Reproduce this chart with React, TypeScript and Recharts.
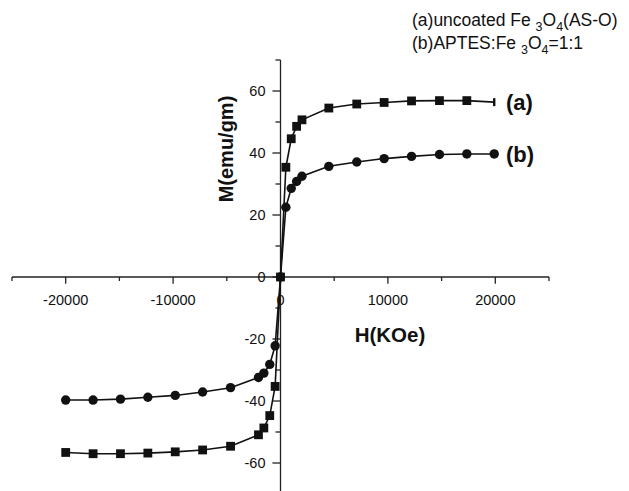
import { Line, LineChart, ReferenceDot, ReferenceLine, XAxis, YAxis } from "recharts";

// applied field H, shared by both samples
const fieldH = [
  -20000, -17450, -14900, -12350, -9800, -7250, -4650, -2050, -1550, -1000, -500, 0,
  500, 1000, 1500, 2000, 4500, 7100, 9650, 12200, 14800, 17350, 19900
];
// (a) uncoated Fe3O4
const uncoatedM = [
  -56.6, -57, -57, -56.8, -56.4, -55.8, -54.6, -50.9, -48.7, -44.7, -35.3, 0,
  35.4, 44.6, 48.6, 50.7, 54.5, 55.8, 56.3, 56.8, 56.9, 56.9, 56.4
];
// (b) APTES:Fe3O4 = 1:1
const aptesM = [
  -39.7, -39.7, -39.4, -38.8, -38.2, -37.1, -35.7, -32.4, -31, -28.2, -22.2, 0,
  22.5, 28.6, 30.8, 32.5, 35.7, 37.1, 38.2, 38.9, 39.5, 39.7, 39.7
];

const xMajorTicks = [-20000, -10000, 0, 10000, 20000];
const xMinorTicks = [-25000, -15000, -5000, 5000, 15000, 25000];
const yMajorTicks = [-60, -40, -20, 0, 20, 40, 60];
const yMinorTicks = [-50, -30, -10, 10, 30, 50, 70];

const rows = fieldH.map((h, i) => ({ h, a: uncoatedM[i], b: aptesM[i] }));

const FONT = "'Liberation Sans', Arial, Helvetica, sans-serif";
const INK = "#111";
const AXIS = "#222";

// tick lengths in data units (x ticks hang down, y ticks point left)
const X_MAJOR_LEN = 2.2;
const X_MINOR_LEN = 1.3;
const Y_MAJOR_LEN = 750;
const Y_MINOR_LEN = 470;

const lastIndex = fieldH.length - 1;

const squareDot = (props: any) => {
  const { cx, cy, index } = props;
  if (cx == null || cy == null) return <g key={`sq-${index}`} />;
  if (index === lastIndex) {
    return <rect key={`sq-${index}`} x={cx - 1.2} y={cy - 4} width={2.4} height={8} fill={INK} />;
  }
  return <rect key={`sq-${index}`} x={cx - 4.4} y={cy - 4.4} width={8.8} height={8.8} fill={INK} />;
};

const circleDot = (props: any) => {
  const { cx, cy, index } = props;
  if (cx == null || cy == null) return <g key={`ci-${index}`} />;
  return <circle key={`ci-${index}`} cx={cx} cy={cy} r={4.7} fill={INK} />;
};

export default function App() {
  return (
    <div
      style={{
        position: "absolute",
        left: 0,
        top: 0,
        width: 629,
        height: 491,
        overflow: "hidden",
        background: "#fff",
        fontFamily: FONT
      }}
    >
      <LineChart
        width={629}
        height={500}
        data={rows}
        margin={{ top: 60, right: 80, bottom: 6, left: 12 }}
      >
        <XAxis type="number" dataKey="h" domain={[-25000, 25000]} hide />
        <YAxis type="number" domain={[-70, 70]} hide />

        {/* axes crossing at the origin */}
        <ReferenceLine y={0} stroke={AXIS} strokeWidth={1.3} />
        <ReferenceLine x={0} stroke={AXIS} strokeWidth={1.3} />

        {xMajorTicks.map((v) => (
          <ReferenceLine
            key={`xM${v}`}
            segment={[{ x: v, y: 0 }, { x: v, y: -X_MAJOR_LEN }]}
            stroke={AXIS}
            strokeWidth={1.3}
          />
        ))}
        {xMinorTicks.map((v) => (
          <ReferenceLine
            key={`xm${v}`}
            segment={[{ x: v, y: 0 }, { x: v, y: -X_MINOR_LEN }]}
            stroke={AXIS}
            strokeWidth={1.3}
          />
        ))}
        {yMajorTicks.map((v) => (
          <ReferenceLine
            key={`yM${v}`}
            segment={[{ x: -Y_MAJOR_LEN, y: v }, { x: 0, y: v }]}
            stroke={AXIS}
            strokeWidth={1.3}
          />
        ))}
        {yMinorTicks.map((v) => (
          <ReferenceLine
            key={`ym${v}`}
            segment={[{ x: -Y_MINOR_LEN, y: v }, { x: 0, y: v }]}
            stroke={AXIS}
            strokeWidth={1.3}
          />
        ))}

        {xMajorTicks.map((v) => (
          <ReferenceDot
            key={`xl${v}`}
            x={v}
            y={0}
            r={0}
            shape={(p: any) => (
              <text
                x={p.cx}
                y={p.cy + 23}
                textAnchor="middle"
                dominantBaseline="central"
                fontSize={14.5}
                fontFamily={FONT}
                fill={INK}
              >
                {v}
              </text>
            )}
          />
        ))}
        {yMajorTicks.map((v) => (
          <ReferenceDot
            key={`yl${v}`}
            x={0}
            y={v}
            r={0}
            shape={(p: any) => (
              <text
                x={p.cx - 15}
                y={p.cy}
                textAnchor="end"
                dominantBaseline="central"
                fontSize={14.5}
                fontFamily={FONT}
                fill={INK}
              >
                {v}
              </text>
            )}
          />
        ))}

        <Line
          type="linear"
          dataKey="a"
          stroke={INK}
          strokeWidth={1.6}
          dot={squareDot}
          activeDot={false}
          isAnimationActive={false}
        />
        <Line
          type="linear"
          dataKey="b"
          stroke={INK}
          strokeWidth={1.6}
          dot={circleDot}
          activeDot={false}
          isAnimationActive={false}
        />
      </LineChart>

      <svg
        width={629}
        height={491}
        style={{ position: "absolute", left: 0, top: 0, pointerEvents: "none" }}
        fontFamily={FONT}
      >
        <text x={390} y={334} textAnchor="middle" dominantBaseline="central" fontSize={20.5} fontWeight="bold" fill={INK}>
          H(KOe)
        </text>
        <text
          x={226}
          y={149}
          textAnchor="middle"
          dominantBaseline="central"
          fontSize={20}
          fontWeight="bold"
          fill={INK}
          transform="rotate(-90 226 149)"
        >
          M(emu/gm)
        </text>
        <text x={506} y={102} dominantBaseline="central" fontSize={22} fontWeight="bold" fill={INK}>
          (a)
        </text>
        <text x={506} y={154} dominantBaseline="central" fontSize={22} fontWeight="bold" fill={INK}>
          (b)
        </text>

        <text x={412} y={26} fontSize={17.5} fill={INK}>
          (a)uncoated Fe <tspan dy={5} fontSize={12.5}>3</tspan>
          <tspan dy={-5}>O</tspan>
          <tspan dy={5} fontSize={12.5}>4</tspan>
          <tspan dy={-5}>(AS-O)</tspan>
        </text>
        <text x={412} y={49} fontSize={17.5} fill={INK}>
          (b)APTES:Fe <tspan dy={5} fontSize={12.5}>3</tspan>
          <tspan dy={-5}>O</tspan>
          <tspan dy={5} fontSize={12.5}>4</tspan>
          <tspan dy={-5}>=1:1</tspan>
        </text>
      </svg>
    </div>
  );
}
